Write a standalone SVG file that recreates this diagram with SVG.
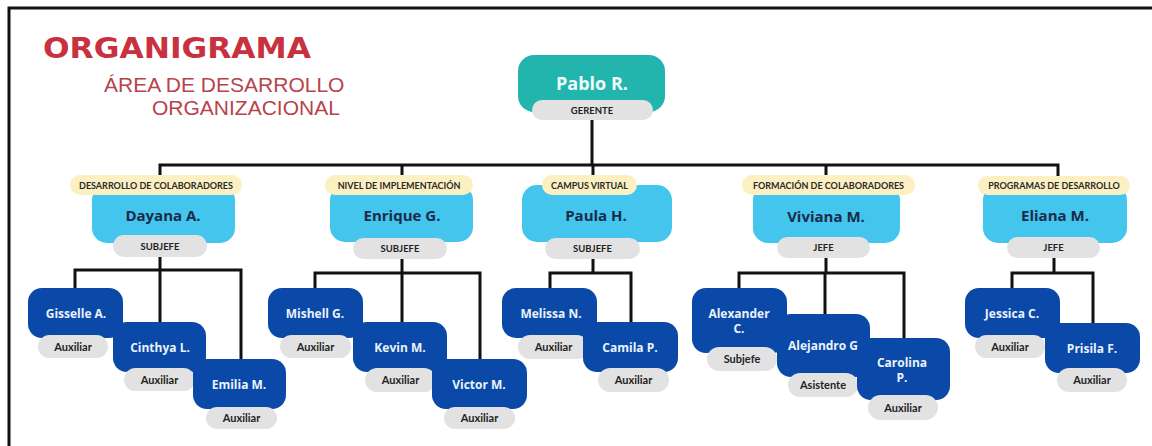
<svg xmlns="http://www.w3.org/2000/svg" width="1152" height="446" viewBox="0 0 1152 446">
  <style>
    .frame { stroke: #111; stroke-width: 3; fill: none; }
    .wire { stroke: #111; stroke-width: 3; fill: none; stroke-linecap: square; }
    .title { font-family: "DejaVu Sans", "Liberation Sans", sans-serif; font-weight: 700; font-size: 29px; fill: #c8323e; }
    .subtitle { font-family: "Liberation Sans", Arial, sans-serif; font-size: 21px; fill: #b8434c; }
    .top { fill: #22b5ad; }
    .head { fill: #43c5ee; }
    .staff { fill: #0b49a8; }
    .pill { fill: #e2e2e2; }
    .tag { fill: #fcf0c2; }
    .top-name { font-family: "Open Sans", "Liberation Sans", sans-serif; font-weight: 700; font-size: 18px; fill: #eefbfa; text-anchor: middle; }
    .head-name { font-family: "Open Sans", "Liberation Sans", sans-serif; font-weight: 700; font-size: 15px; fill: #1a2b48; text-anchor: middle; }
    .staff-name { font-family: "Open Sans", "Liberation Sans", sans-serif; font-weight: 700; font-size: 12px; fill: #eaf3fc; text-anchor: middle; }
    .role { font-family: Lato, "Liberation Sans", sans-serif; font-weight: 700; font-size: 9.5px; fill: #222; text-anchor: middle; }
    .pos { font-family: Lato, "Liberation Sans", sans-serif; font-weight: 700; font-size: 11px; fill: #222; text-anchor: middle; }
    .area { font-family: Lato, "Liberation Sans", sans-serif; font-weight: 700; font-size: 9px; fill: #2a2a2a; text-anchor: middle; }
  </style>

  <rect width="1152" height="446" fill="#ffffff"/>
  <!-- page frame: top and left edges only -->
  <path class="frame" d="M9 446 V8 H1152"/>

  <!-- heading -->
  <g id="heading">
    <text class="title" x="43" y="58" textLength="268" lengthAdjust="spacingAndGlyphs">ORGANIGRAMA</text>
    <text class="subtitle" x="104" y="92">ÁREA DE DESARROLLO</text>
    <text class="subtitle" x="152" y="115">ORGANIZACIONAL</text>
  </g>

  <!-- connectors -->
  <g id="connectors">
    <path class="wire" d="M592 120 V165 M160 165 H1058 M160 165 V175 M402 165 V175 M593 165 V175 M826 165 V175 M1058 165 V176"/>
    <!-- Dayana A. team -->
    <path class="wire" d="M160 257 V270 M75 288 V270 H241 V359 M160 270 V322"/>
    <!-- Enrique G. team -->
    <path class="wire" d="M402 259 V273 M315 288 V273 H480 V359 M402 273 V322"/>
    <!-- Paula H. team -->
    <path class="wire" d="M593 259 V273 M550 288 V273 H631 V322"/>
    <!-- Viviana M. team -->
    <path class="wire" d="M826 258 V273 M739 288 V273 H904 V338 M825 273 V314"/>
    <!-- Eliana M. team -->
    <path class="wire" d="M1054 258 V273 M1012 288 V273 H1093 V323"/>
  </g>

  <!-- top node -->
  <g id="pablo">
    <rect class="top" x="518" y="55" width="147" height="57" rx="16"/>
    <text class="top-name" x="592" y="90">Pablo R.</text>
    <rect class="pill" x="532" y="100" width="121" height="20" rx="10"/>
    <text class="role" x="592" y="114">GERENTE</text>
  </g>

  <!-- area heads -->
  <g id="dayana">
    <rect class="head" x="92" y="185" width="143" height="58" rx="15"/>
    <rect class="tag" x="70" y="175" width="172" height="20" rx="10"/>
    <text class="area" x="156" y="188.5">DESARROLLO DE COLABORADORES</text>
    <text class="head-name" x="163" y="221">Dayana A.</text>
    <rect class="pill" x="113" y="235" width="94" height="22" rx="11"/>
    <text class="role" x="160" y="249.5">SUBJEFE</text>
  </g>

  <g id="enrique">
    <rect class="head" x="330" y="185" width="143" height="57" rx="15"/>
    <rect class="tag" x="325" y="175" width="148" height="20" rx="10"/>
    <text class="area" x="399" y="188.5">NIVEL DE IMPLEMENTACIÓN</text>
    <text class="head-name" x="402" y="221">Enrique G.</text>
    <rect class="pill" x="353" y="238" width="94" height="21" rx="10.5"/>
    <text class="role" x="400" y="252">SUBJEFE</text>
  </g>

  <g id="paula">
    <rect class="head" x="522" y="185" width="150" height="57" rx="15"/>
    <rect class="tag" x="542" y="175" width="95" height="20" rx="10"/>
    <text class="area" x="589.5" y="188.5">CAMPUS VIRTUAL</text>
    <text class="head-name" x="596" y="221">Paula H.</text>
    <rect class="pill" x="545" y="238" width="95" height="21" rx="10.5"/>
    <text class="role" x="592.5" y="252">SUBJEFE</text>
  </g>

  <g id="viviana">
    <rect class="head" x="753" y="185" width="147" height="58" rx="15"/>
    <rect class="tag" x="742" y="175" width="173" height="20" rx="10"/>
    <text class="area" x="828.5" y="188.5">FORMACIÓN DE COLABORADORES</text>
    <text class="head-name" x="826" y="222">Viviana M.</text>
    <rect class="pill" x="777" y="237" width="93" height="21" rx="10.5"/>
    <text class="role" x="823.5" y="251">JEFE</text>
  </g>

  <g id="eliana">
    <rect class="head" x="983" y="185" width="144" height="58" rx="15"/>
    <rect class="tag" x="978" y="176" width="152" height="19" rx="9.5"/>
    <text class="area" x="1054" y="189">PROGRAMAS DE DESARROLLO</text>
    <text class="head-name" x="1055" y="221">Eliana M.</text>
    <rect class="pill" x="1007" y="237" width="93" height="21" rx="10.5"/>
    <text class="role" x="1053.5" y="251">JEFE</text>
  </g>

  <!-- Dayana A. staff -->
  <g id="gisselle">
    <rect class="staff" x="28" y="288" width="95" height="50" rx="14"/>
    <text class="staff-name" x="76" y="318">Gisselle A.</text>
    <rect class="pill" x="38" y="335" width="70" height="23" rx="11.5"/>
    <text class="pos" x="73" y="350.5">Auxiliar</text>
  </g>
  <g id="cinthya">
    <rect class="staff" x="113" y="322" width="93" height="50" rx="14"/>
    <text class="staff-name" x="160" y="352">Cinthya L.</text>
    <rect class="pill" x="124" y="368" width="71" height="23" rx="11.5"/>
    <text class="pos" x="159.5" y="383.5">Auxiliar</text>
  </g>
  <g id="emilia">
    <rect class="staff" x="193" y="359" width="93" height="50" rx="14"/>
    <text class="staff-name" x="239" y="389">Emilia M.</text>
    <rect class="pill" x="206" y="407" width="71" height="22" rx="11"/>
    <text class="pos" x="241.5" y="422">Auxiliar</text>
  </g>

  <!-- Enrique G. staff -->
  <g id="mishell">
    <rect class="staff" x="268" y="288" width="95" height="50" rx="14"/>
    <text class="staff-name" x="315" y="318">Mishell G.</text>
    <rect class="pill" x="280" y="335" width="71" height="23" rx="11.5"/>
    <text class="pos" x="315.5" y="350.5">Auxiliar</text>
  </g>
  <g id="kevin">
    <rect class="staff" x="353" y="322" width="94" height="50" rx="14"/>
    <text class="staff-name" x="400" y="352">Kevin M.</text>
    <rect class="pill" x="365" y="368" width="71" height="24" rx="12"/>
    <text class="pos" x="400.5" y="384">Auxiliar</text>
  </g>
  <g id="victor">
    <rect class="staff" x="432" y="359" width="95" height="50" rx="14"/>
    <text class="staff-name" x="479" y="389">Victor M.</text>
    <rect class="pill" x="444" y="407" width="71" height="22" rx="11"/>
    <text class="pos" x="479.5" y="422">Auxiliar</text>
  </g>

  <!-- Paula H. staff -->
  <g id="melissa">
    <rect class="staff" x="502" y="288" width="95" height="50" rx="14"/>
    <text class="staff-name" x="551" y="318">Melissa N.</text>
    <rect class="pill" x="518" y="335" width="71" height="24" rx="12"/>
    <text class="pos" x="553.5" y="351">Auxiliar</text>
  </g>
  <g id="camila">
    <rect class="staff" x="583" y="322" width="95" height="50" rx="14"/>
    <text class="staff-name" x="630" y="352">Camila P.</text>
    <rect class="pill" x="598" y="368" width="71" height="24" rx="12"/>
    <text class="pos" x="633.5" y="384">Auxiliar</text>
  </g>

  <!-- Viviana M. staff -->
  <g id="alexander">
    <rect class="staff" x="692" y="288" width="95" height="65" rx="14"/>
    <text class="staff-name" x="739" y="318">Alexander</text>
    <text class="staff-name" x="739" y="333">C.</text>
    <rect class="pill" x="707" y="347" width="70" height="24" rx="12"/>
    <text class="pos" x="742" y="363">Subjefe</text>
  </g>
  <g id="alejandro">
    <rect class="staff" x="777" y="314" width="93" height="63" rx="14"/>
    <text class="staff-name" x="823" y="350">Alejandro G</text>
    <rect class="pill" x="788" y="373" width="70" height="24" rx="12"/>
    <text class="pos" x="823" y="389">Asistente</text>
  </g>
  <g id="carolina">
    <rect class="staff" x="857" y="338" width="93" height="62" rx="14"/>
    <text class="staff-name" x="902" y="367">Carolina</text>
    <text class="staff-name" x="902" y="382">P.</text>
    <rect class="pill" x="868" y="395" width="70" height="25" rx="12.5"/>
    <text class="pos" x="903" y="411.5">Auxiliar</text>
  </g>

  <!-- Eliana M. staff -->
  <g id="jessica">
    <rect class="staff" x="965" y="288" width="95" height="50" rx="14"/>
    <text class="staff-name" x="1012" y="318">Jessica C.</text>
    <rect class="pill" x="975" y="335" width="70" height="23" rx="11.5"/>
    <text class="pos" x="1010" y="350.5">Auxiliar</text>
  </g>
  <g id="prisila">
    <rect class="staff" x="1045" y="323" width="95" height="50" rx="14"/>
    <text class="staff-name" x="1092" y="353">Prisila F.</text>
    <rect class="pill" x="1057" y="368" width="70" height="24" rx="12"/>
    <text class="pos" x="1092" y="384">Auxiliar</text>
  </g>
</svg>
